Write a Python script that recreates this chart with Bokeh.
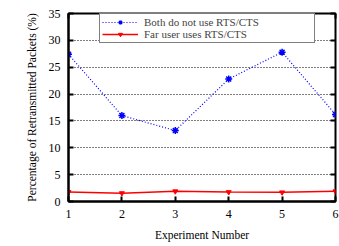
from bokeh.plotting import figure
from bokeh.models import LinearAxis, Range1d, FixedTicker, Legend, LegendItem, CustomJSTickFormatter
from bokeh.embed import file_html
from bokeh.resources import INLINE

experiments = [1, 2, 3, 4, 5, 6]
no_rts = [27.4, 16.0, 13.2, 22.8, 27.8, 16.2]
far_rts = [1.75, 1.55, 1.9, 1.75, 1.7, 1.9]
x_ticks = [1, 2, 3, 4, 5, 6]
y_ticks = [0, 5, 10, 15, 20, 25, 30, 35]

FONT = "Liberation Serif"

p = figure(width=339, height=246, output_backend="svg", toolbar_location=None,
           x_range=Range1d(1, 6), y_range=Range1d(0, 35),
           min_border_left=68, min_border_right=4, min_border_top=13, min_border_bottom=45)
p.outline_line_color = "black"
p.outline_line_width = 2
p.background_fill_color = "white"
p.border_fill_color = "white"

p.xgrid.grid_line_color = None
p.ygrid.grid_line_color = "black"
p.ygrid.grid_line_dash = "1 2"
p.ygrid.grid_line_width = 1
p.ygrid.ticker = FixedTicker(ticks=y_ticks)

for ax in (p.xaxis[0], p.yaxis[0]):
    ax.axis_line_color = "black"
    ax.axis_line_width = 2
    ax.major_tick_in = 5
    ax.major_tick_out = 0
    ax.major_tick_line_width = 2
    ax.minor_tick_line_color = None
    ax.major_label_text_font = FONT
    ax.major_label_text_font_size = "12px"
    ax.major_label_text_color = "black"
    ax.axis_label_text_font = FONT
    ax.axis_label_text_font_size = "11.5px"
    ax.axis_label_text_font_style = "normal"
    ax.axis_label_text_color = "black"

p.xaxis[0].ticker = FixedTicker(ticks=x_ticks)
p.yaxis[0].ticker = FixedTicker(ticks=y_ticks)
p.xaxis[0].axis_label = "Experiment Number"
p.yaxis[0].axis_label = "Percentage of Retransmitted Packets (%)"
p.xaxis[0].major_label_standoff = 8
p.yaxis[0].major_label_standoff = 8
p.xaxis[0].axis_label_standoff = 8
p.yaxis[0].axis_label_standoff = 8

blank = CustomJSTickFormatter(code="return ''")
top = LinearAxis(ticker=FixedTicker(ticks=x_ticks), formatter=blank)
right = LinearAxis(ticker=FixedTicker(ticks=y_ticks), formatter=blank)
for ax in (top, right):
    ax.axis_line_color = None
    ax.major_tick_in = 5
    ax.major_tick_out = 0
    ax.major_tick_line_width = 2
    ax.minor_tick_line_color = None
    ax.major_label_standoff = 0
p.add_layout(top, "above")
p.add_layout(right, "right")

l1 = p.line(experiments, no_rts, line_color="blue", line_width=1.2, line_dash="1 2")
m1 = p.scatter(experiments, no_rts, marker="asterisk", size=7, line_color="blue", line_width=1.5)
l2 = p.line(experiments, far_rts, line_color="red", line_width=1.5)
m2 = p.scatter(experiments, far_rts, marker="inverted_triangle", size=5, fill_color="red", line_color="red")

legend = Legend(items=[
    LegendItem(label="Both do not use RTS/CTS", renderers=[l1, m1]),
    LegendItem(label="Far user uses RTS/CTS", renderers=[l2, m2]),
], location=(31, 158))
legend.margin = 0
legend.padding = 2
legend.spacing = 0
legend.label_text_font = FONT
legend.label_text_font_size = "11px"
legend.label_height = 10
legend.glyph_height = 10
legend.glyph_width = 36
legend.label_standoff = 6
legend.label_width = 168
legend.border_line_color = "black"
legend.border_line_width = 1.5
legend.background_fill_alpha = 1
p.add_layout(legend, "center")

open("out.html", "w").write(file_html(p, INLINE))
